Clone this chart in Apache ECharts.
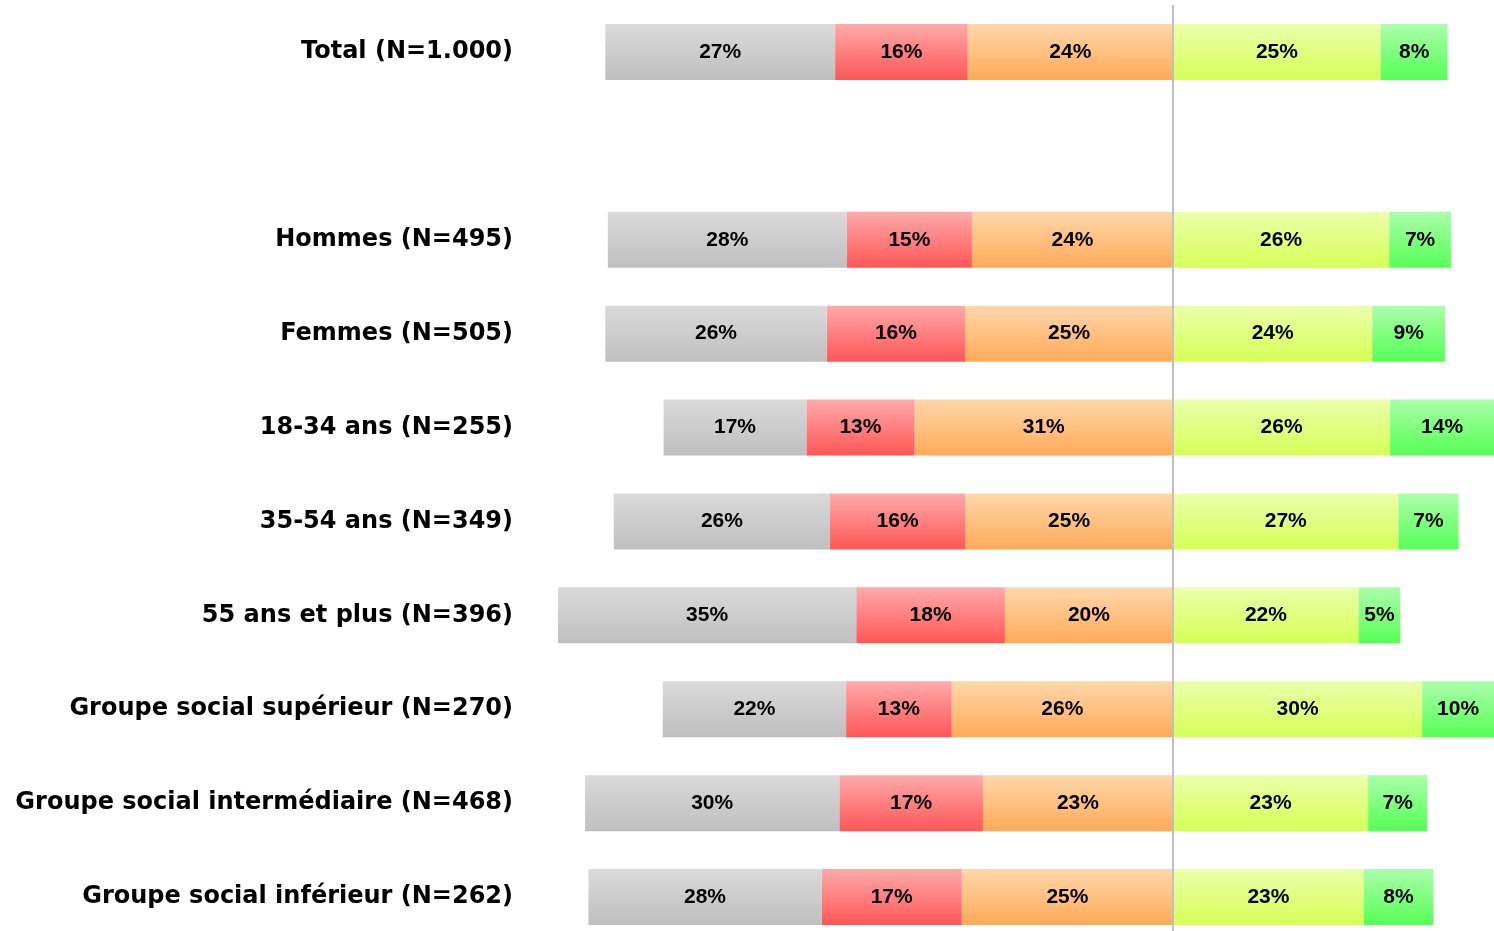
<!DOCTYPE html>
<html>
<head>
<meta charset="utf-8">
<script src="https://cdn.jsdelivr.net/npm/echarts@6/dist/echarts.min.js"></script>
<style>
    html, body { margin: 0; padding: 0; background: #fff; }
    #chart { width: 1494px; height: 931px; }
</style>
</head>
<body>
<div id="chart"></div>
<script>
// rows, top to bottom ('' = empty spacer row under Total)
var categories = [
    "Total (N=1.000)", "",
    "Hommes (N=495)", "Femmes (N=505)",
    "18-34 ans (N=255)", "35-54 ans (N=349)", "55 ans et plus (N=396)",
    "Groupe social supérieur (N=270)", "Groupe social intermédiaire (N=468)", "Groupe social inférieur (N=262)"
];
// left side (drawn negative), share in %
var grisVals   = [27.2, null, 28.3, 26.2, 16.9, 25.6, 35.3, 21.7, 30.1, 27.6];
var rougeVals  = [15.7, null, 14.8, 16.4, 12.8, 16.0, 17.6, 12.5, 17.0, 16.6];
var orangeVals = [24.3, null, 23.8, 24.6, 30.6, 24.6, 19.9, 26.2, 22.5, 25.0];
// right side
var vertClairVals = [24.6, null, 25.6, 23.6, 25.7, 26.7, 22.0, 29.5, 23.1, 22.6];
var vertVals      = [7.9, null, 7.3, 8.6, 14.0, 7.1, 4.9, 10.0, 7.0, 8.2];

function grad(top, bottom) {
    return new echarts.graphic.LinearGradient(0, 0, 0, 1, [
        { offset: 0, color: top },
        { offset: 1, color: bottom }
    ]);
}

function neg(arr) {
    return arr.map(function (v) { return v == null ? "-" : -v; });
}
function pos(arr) {
    return arr.map(function (v) { return v == null ? "-" : v; });
}

var pctLabel = {
    show: true,
    position: "inside",
    color: "#000",
    fontFamily: "Liberation Sans",
    fontWeight: "bold",
    fontSize: 21,
    formatter: function (p) { return Math.round(Math.abs(p.value)) + "%"; }
};

function serie(name, data, top, bottom) {
    return {
        name: name,
        type: "bar",
        stack: "tot",
        barWidth: 56,
        data: data,
        label: pctLabel,
        itemStyle: { color: grad(top, bottom) },
        silent: true
    };
}

var series = [
    serie("orange", neg(orangeVals), "#ffd7aa", "#ffaa58"),
    serie("rouge", neg(rougeVals), "#ffaaaa", "#ff5656"),
    serie("gris", neg(grisVals), "#dadada", "#bfbfbf"),
    serie("vertclair", pos(vertClairVals), "#ebffaa", "#d5ff55"),
    serie("vert", pos(vertVals), "#aaffaa", "#56ff56")
];
// center line
series[0].markLine = {
    silent: true,
    symbol: "none",
    label: { show: false },
    lineStyle: { color: "#c0c0c0", width: 2, type: "solid" },
    data: [{ xAxis: 0 }]
};

var myChart = echarts.init(document.getElementById("chart"));
myChart.setOption({
    animation: false,
    backgroundColor: "#fff",
    grid: { left: 520, right: 0, top: 5, height: 939, outerBoundsMode: "none", containLabel: false },
    xAxis: {
        type: "value",
        min: -77.3,
        max: 38,
        show: false,
        splitLine: { show: false }
    },
    yAxis: {
        type: "category",
        inverse: true,
        data: categories,
        axisLine: { show: false },
        axisTick: { show: false },
        axisLabel: {
            margin: 7,
            color: "#000",
            fontFamily: "DejaVu Sans",
            fontWeight: "bold",
            fontSize: 24
        }
    },
    series: series
});
</script>
</body>
</html>
